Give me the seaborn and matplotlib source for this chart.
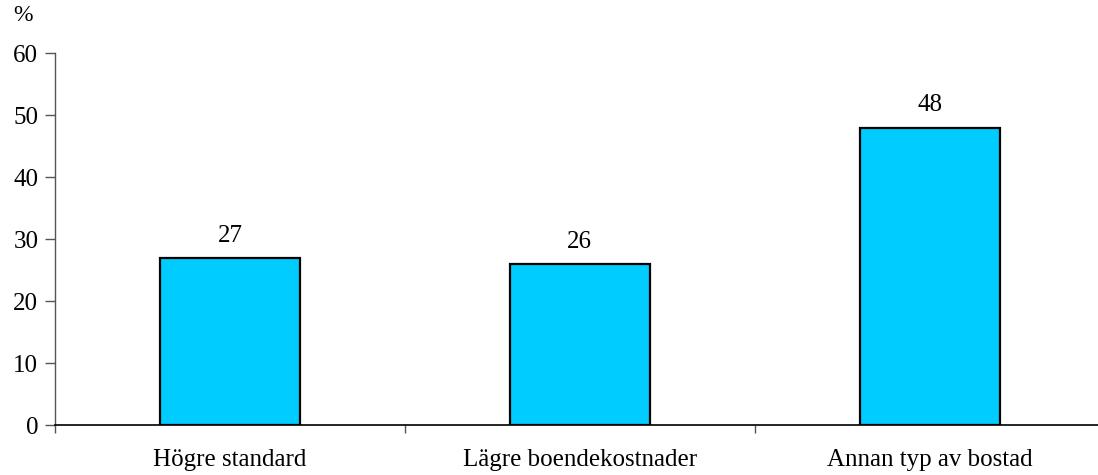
import pandas as pd
import matplotlib.pyplot as plt
import seaborn as sns
from matplotlib.ticker import FixedLocator

categories = ['Högre standard', 'Lägre boendekostnader', 'Annan typ av bostad']
values = [27, 26, 48]
y_ticks = [0, 10, 20, 30, 40, 50, 60]

sns.set_style("white")
plt.rcParams['font.family'] = ['Liberation Serif', 'DejaVu Serif']
plt.rcParams['font.size'] = 18
plt.rcParams['text.color'] = 'black'
plt.rcParams['xtick.color'] = 'black'
plt.rcParams['ytick.color'] = 'black'

df = pd.DataFrame({'category': categories, 'value': values})

fig = plt.figure(figsize=(10.98, 4.75), dpi=100)
ax = fig.add_axes([0.0501, 0.105, 0.956, 0.783])

sns.barplot(data=df, x='category', y='value', ax=ax, color='#00CCFF',
            saturation=1, width=0.4, edgecolor='black', linewidth=1.6)

for c in ax.containers:
    ax.bar_label(c, padding=8, fontsize=18, color='black')

ax.set_ylim(0, 60)
ax.set_xlim(-0.5, 2.5)
ax.set_yticks(y_ticks)
ax.set_xlabel('')
ax.set_ylabel('')

# category separators on the x axis
ax.xaxis.set_minor_locator(FixedLocator([-0.5, 0.5, 1.5, 2.5]))
ax.tick_params(axis='x', which='major', bottom=True, length=0, pad=17, labelsize=18)
ax.tick_params(axis='x', which='minor', bottom=True, length=6, width=1, direction='out', color='#555555')
ax.tick_params(axis='y', left=True, length=7, width=1, direction='out', color='#555555', labelsize=18, pad=5)

sns.despine(ax=ax)
ax.spines['left'].set_color('#555555')
ax.spines['left'].set_linewidth(1)
ax.spines['bottom'].set_color('black')
ax.spines['bottom'].set_linewidth(1.2)

fig.text(0.012, 0.99, '%', fontsize=17, va='top', ha='left')

fig.savefig('out.png', dpi=100)
